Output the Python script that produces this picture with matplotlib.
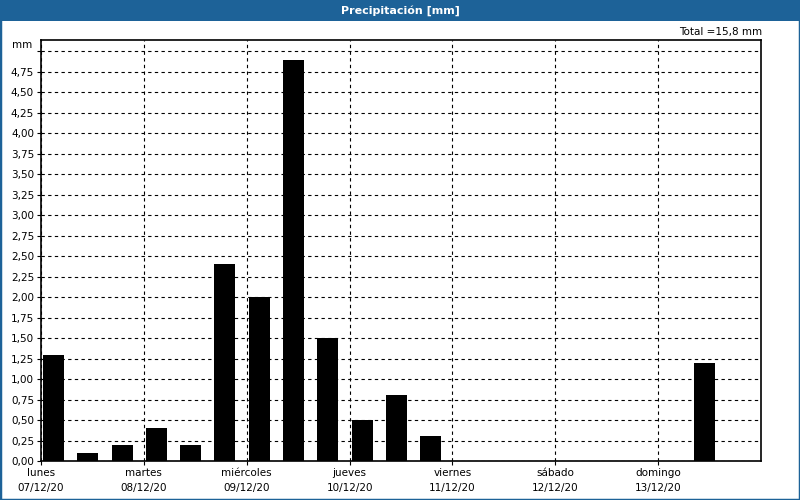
import matplotlib
matplotlib.use('Agg')
import matplotlib.pyplot as plt
from matplotlib.patches import Rectangle
from matplotlib.ticker import FuncFormatter

# datos: precipitación cada 8 horas (mm)
periodos = list(range(21))
precipitacion = [1.3, 0.1, 0.2, 0.4, 0.2, 2.4, 2.0, 4.9, 1.5, 0.5, 0.8, 0.3,
                 0, 0, 0, 0, 0, 0, 0, 1.2, 0]
dias = ['lunes', 'martes', 'miércoles', 'jueves', 'viernes', 'sábado', 'domingo']
fechas = ['07/12/20', '08/12/20', '09/12/20', '10/12/20', '11/12/20', '12/12/20', '13/12/20']
total = '15,8'

azul = '#1d6298'
plt.rcParams['font.family'] = 'DejaVu Sans'

fig = plt.figure(figsize=(8, 5), dpi=100)
fig.patches.append(Rectangle((0, 0), 1, 1, transform=fig.transFigure, facecolor='white',
                             edgecolor=azul, linewidth=2.5, zorder=-1))
fig.patches.append(Rectangle((0, 1 - 21 / 500), 1, 21 / 500, transform=fig.transFigure,
                             facecolor=azul, edgecolor='none', zorder=0))
fig.text(0.5, 1 - 10.5 / 500, 'Precipitación [mm]', color='white', fontweight='bold',
         fontsize=8, ha='center', va='center')

ax = fig.add_axes([41 / 800, 39 / 500, 720 / 800, 421 / 500])

# posicion de cada barra en dias (3 periodos por dia)
x = [p / 3 + 0.02 for p in periodos]
ax.bar(x, precipitacion, width=0.204, align='edge', color='black', zorder=3)

ax.set_xlim(0, 7)
ax.set_ylim(0, 5.14)
ax.set_yticks([i * 0.25 for i in range(21)])
ax.yaxis.set_major_formatter(FuncFormatter(
    lambda v, p: '' if v > 4.9 else f'{v:.2f}'.replace('.', ',')))
ax.set_xticks(range(7))
ax.set_xticklabels([f'{d}\n{f}' for d, f in zip(dias, fechas)], linespacing=1.6)

ax.grid(True, color='black', linestyle=(0, (3, 3)), linewidth=0.8, zorder=1)
ax.tick_params(direction='out', length=3, width=0.8, labelsize=7.5, pad=2)
for s in ax.spines.values():
    s.set_linewidth(1.2)

ax.text(-0.012, 5.08, 'mm', transform=ax.get_yaxis_transform(), ha='right', va='center',
        fontsize=7.5)
fig.text(762 / 800, 1 - 32 / 500, f'Total ={total} mm', ha='right', va='center', fontsize=7.5)

fig.savefig('out.png', dpi=100)
